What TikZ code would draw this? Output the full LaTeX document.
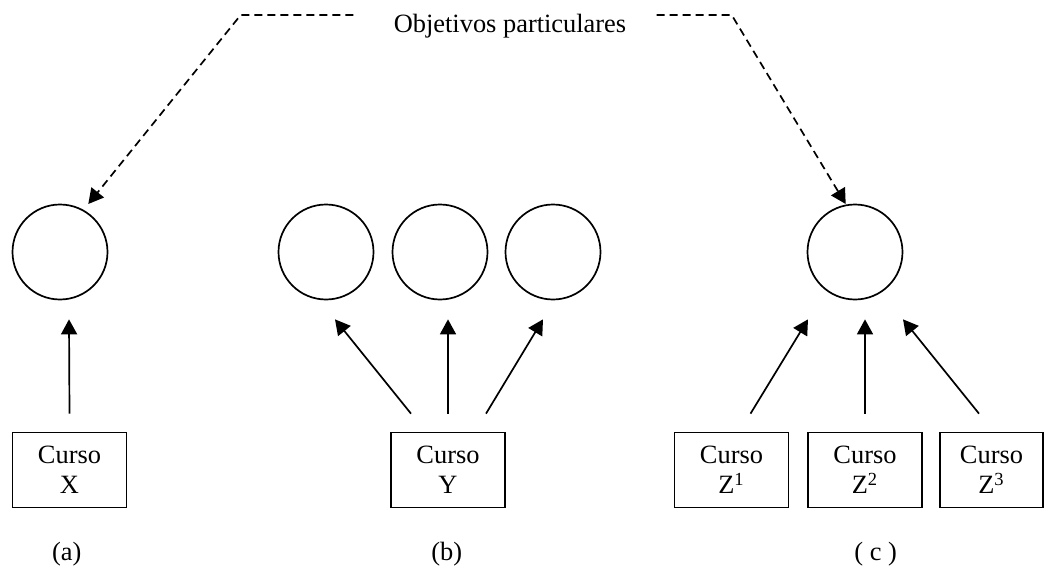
\documentclass[tikz,border=0pt]{standalone}
\usepackage{fontspec}
\setmainfont{Liberation Serif}
\usetikzlibrary{arrows.meta}
\tikzset{
  objetivo/.style={circle,draw,line width=0.85pt,minimum size=47.5pt,inner sep=0pt},
  curso/.style={rectangle,draw,line width=0.85pt,minimum width=57pt,minimum height=37.5pt,inner sep=0pt,align=center,font=\fontsize{13.2}{15}\selectfont},
  etiqueta/.style={anchor=base,inner sep=0pt,font=\fontsize{13.2}{15}\selectfont},
  flecha/.style={line width=0.85pt,-{Triangle[length=7.5pt,width=8pt]}},
  flechapunteada/.style={flecha,dash pattern=on 4pt off 2.5pt}
}

\begin{document}
\begin{tikzpicture}[x=0.5pt,y=0.5pt]
\useasboundingbox (0,0) rectangle (1044,569);
% objetivos particulares
\node[objetivo] (a) at (60,317) {};
\node[objetivo] (b1) at (326,317) {};
\node[objetivo] (b2) at (440,317) {};
\node[objetivo] (b3) at (553,317) {};
\node[objetivo] (c) at (855,317) {};
% cursos
\node[curso] (X) at (69.5,99) {Curso\\X};
\node[curso] (Y) at (448,99) {Curso\\Y};
\node[curso] (Z1) at (731.5,99) {Curso\\Z\textsuperscript{1}};
\node[curso] (Z2) at (865,99) {Curso\\Z\textsuperscript{2}};
\node[curso,minimum width=51.5pt] (Z3) at (991.5,99) {Curso\\Z\textsuperscript{3}};
% titulo y flechas punteadas
\node[etiqueta] (obj) at (510,536) {Objetivos particulares};
\coordinate (izq) at (240.7,554);
\coordinate (der) at (731.7,554);
\draw[flechapunteada] ([shift={(-40,18)}]obj.base west) -- (izq) -- ([shift={(28.3,48)}]a.center);
\draw[flechapunteada] ([shift={(30,18)}]obj.base east) -- (der) -- ([shift={(-9.3,48)}]c.center);
% (a)
\draw[flecha] ([shift={(0,18)}]X.north) -- ([shift={(9,-19)}]a.south);
% (b)
\draw[flecha] ([shift={(-37,18)}]Y.north) -- ([shift={(9,-19)}]b1.south);
\draw[flecha] ([shift={(0,18)}]Y.north) -- ([shift={(8,-19)}]b2.south);
\draw[flecha] ([shift={(38,18)}]Y.north) -- ([shift={(-10,-19)}]b3.south);
% (c)
\draw[flecha] ([shift={(19,18)}]Z1.north) -- ([shift={(-47,-19)}]c.south);
\draw[flecha] ([shift={(0,18)}]Z2.north) -- ([shift={(10,-19)}]c.south);
\draw[flecha] ([shift={(-12.5,18)}]Z3.north) -- ([shift={(48,-19)}]c.south);
% rotulos
\node[etiqueta] (la) at (66.7,8.5) {(a)};
\node[etiqueta] (lb) at (446.7,8.5) {(b)};
\node[etiqueta] (lc) at (875.7,8.5) {( c )};
\end{tikzpicture}
\end{document}
